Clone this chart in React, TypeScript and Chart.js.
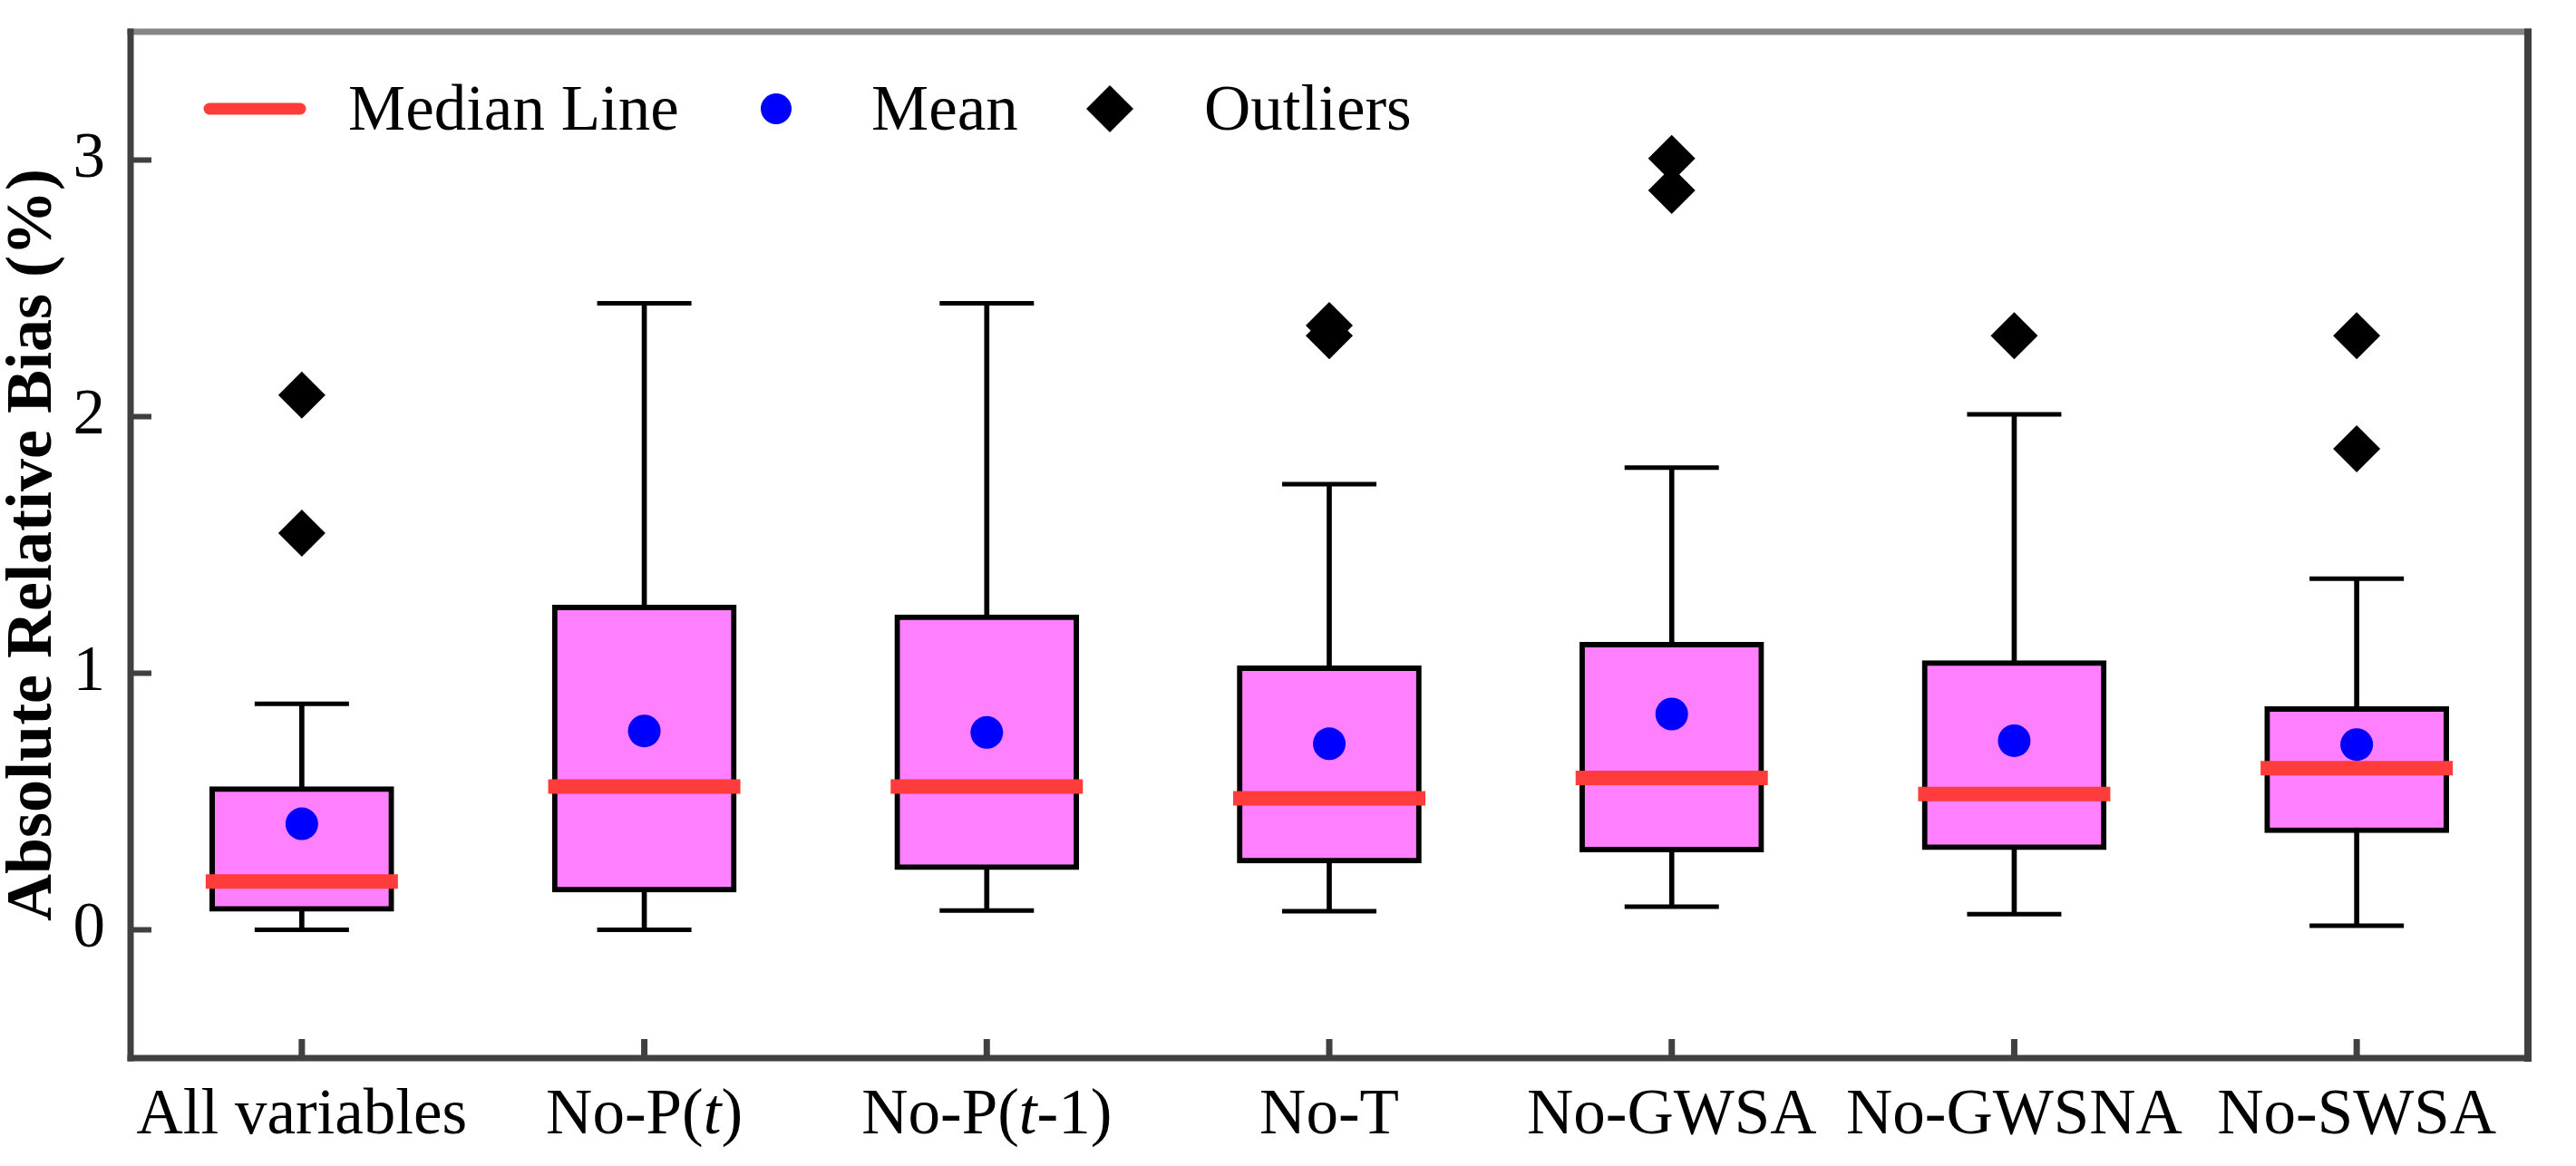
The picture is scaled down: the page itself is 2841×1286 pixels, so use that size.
import React, { useEffect, useRef } from 'react';
import { Chart, registerables } from 'chart.js';

Chart.register(...registerables);

// ---------- data ----------
const categories = ['All variables', 'No-P(t)', 'No-P(t-1)', 'No-T', 'No-GWSA', 'No-GWSNA', 'No-SWSA'];
// tick labels with _..._ marking italic parts
const tickLabels = ['All variables', 'No-P(_t_)', 'No-P(_t_-1)', 'No-T', 'No-GWSA', 'No-GWSNA', 'No-SWSA'];
const whiskerLow = [0.0, 0.0, 0.075, 0.072, 0.09, 0.061, 0.016];
const q1 = [0.072, 0.147, 0.234, 0.26, 0.303, 0.312, 0.378];
const median = [0.188, 0.558, 0.558, 0.512, 0.592, 0.529, 0.63];
const mean = [0.413, 0.775, 0.769, 0.725, 0.841, 0.737, 0.722];
const q3 = [0.558, 1.266, 1.228, 1.029, 1.121, 1.049, 0.87];
const whiskerHigh = [0.881, 2.442, 2.442, 1.737, 1.801, 2.009, 1.368];
const outliersAllVariables = [1.546, 2.084];
const outliersNoPt: number[] = [];
const outliersNoPt1: number[] = [];
const outliersNoT = [2.315, 2.355];
const outliersNoGWSA = [2.882, 3.006];
const outliersNoGWSNA = [2.315];
const outliersNoSWSA = [1.875, 2.315];
const outlierLists = [outliersAllVariables, outliersNoPt, outliersNoPt1, outliersNoT, outliersNoGWSA, outliersNoGWSNA, outliersNoSWSA];
const yTicks = [0, 1, 2, 3];
const yTitle = 'Absolute Relative Bias (%)';
const legendLabels = ['Median Line', 'Mean', 'Outliers'];

// ---------- style ----------
const FONT = '"Liberation Serif", "Times New Roman", serif';
const BOX_FILL = '#FF80FF';
const MEDIAN_RED = '#FF3C3C';
const MEAN_BLUE = '#0000FF';
const AXIS_DARK = '#404040';
const AXIS_GRAY = '#858585';

function parseLabel(s: string): Array<[string, boolean]> {
  const parts = s.split('_');
  return parts.map((p, i) => [p, i % 2 === 1] as [string, boolean]).filter(([p]) => p.length > 0);
}

const decorPlugin = {
  id: 'decor',
  afterDraw(chart: any) {
    const { ctx, chartArea } = chart;
    const { left, right, top, bottom } = chartArea;
    const xs = chart.scales.x;
    const ys = chart.scales.y;
    const line = (x1: number, y1: number, x2: number, y2: number) => {
      ctx.beginPath();
      ctx.moveTo(x1, y1);
      ctx.lineTo(x2, y2);
      ctx.stroke();
    };
    ctx.save();
    ctx.lineCap = 'butt';
    // frame
    ctx.strokeStyle = AXIS_GRAY;
    ctx.lineWidth = 7;
    line(left - 3.5, top, right + 4, top);
    ctx.strokeStyle = AXIS_DARK;
    ctx.lineWidth = 8;
    line(right, top - 3.5, right, bottom + 4);
    ctx.lineWidth = 7;
    line(left, top - 3.5, left, bottom + 3.5);
    line(left - 3.5, bottom, right + 4, bottom);
    // inward y ticks
    ctx.lineWidth = 6;
    yTicks.forEach((v) => {
      const py = ys.getPixelForValue(v);
      line(left, py, left + 23, py);
    });
    // inward x ticks
    ctx.lineWidth = 7;
    categories.forEach((_, i) => {
      const px = xs.getPixelForValue(i);
      line(px, bottom, px, bottom - 21);
    });

    // x tick labels (with italic parts)
    ctx.fillStyle = '#000';
    ctx.textBaseline = 'alphabetic';
    ctx.textAlign = 'left';
    const normalFont = `71px ${FONT}`;
    const italicFont = `italic 71px ${FONT}`;
    tickLabels.forEach((lab, i) => {
      const parts = parseLabel(lab);
      let total = 0;
      const widths = parts.map(([t, it]) => {
        ctx.font = it ? italicFont : normalFont;
        const w = ctx.measureText(t).width;
        total += w;
        return w;
      });
      let x = xs.getPixelForValue(i) - total / 2;
      const y = bottom + 83;
      parts.forEach(([t, it], k) => {
        ctx.font = it ? italicFont : normalFont;
        ctx.fillText(t, x, y);
        x += widths[k];
      });
    });

    // legend inside plot
    const ly = top + 85;
    const textY = top + 108;
    ctx.font = normalFont;
    // median line
    ctx.strokeStyle = MEDIAN_RED;
    ctx.lineWidth = 13;
    ctx.lineCap = 'round';
    line(left + 87, ly, left + 187, ly);
    ctx.fillStyle = '#000';
    ctx.fillText(legendLabels[0], left + 240, textY);
    // mean dot
    ctx.fillStyle = MEAN_BLUE;
    ctx.beginPath();
    ctx.arc(left + 712, ly, 17, 0, Math.PI * 2);
    ctx.fill();
    ctx.fillStyle = '#000';
    ctx.fillText(legendLabels[1], left + 817, textY);
    // outlier diamond
    const dx = left + 1080;
    const r = 26;
    ctx.beginPath();
    ctx.moveTo(dx, ly - r);
    ctx.lineTo(dx + r, ly);
    ctx.lineTo(dx, ly + r);
    ctx.lineTo(dx - r, ly);
    ctx.closePath();
    ctx.fill();
    ctx.fillText(legendLabels[2], left + 1184, textY);
    ctx.restore();
  },
};

export default function App() {
  const canvasRef = useRef<HTMLCanvasElement | null>(null);

  useEffect(() => {
    const canvas = canvasRef.current;
    if (!canvas) return;
    const outlierPoints = outlierLists.flatMap((vals, i) => vals.map((v) => ({ x: categories[i], y: v })));

    const chart = new Chart(canvas, {
      type: 'bar',
      data: {
        labels: categories,
        datasets: [
          {
            type: 'bar',
            label: 'Whisker',
            data: categories.map((_, i) => [whiskerLow[i], whiskerHigh[i]]),
            backgroundColor: '#000',
            borderWidth: 0,
            barThickness: 5,
            grouped: false,
            order: 10,
          } as any,
          {
            type: 'bar',
            label: 'Box',
            data: categories.map((_, i) => [q1[i], q3[i]]),
            backgroundColor: BOX_FILL,
            borderColor: '#000',
            borderWidth: 6,
            borderSkipped: false,
            barThickness: 203,
            grouped: false,
            order: 8,
          } as any,
          {
            type: 'line',
            label: 'Lower cap',
            data: whiskerLow,
            showLine: false,
            pointStyle: 'line',
            pointRadius: 52,
            pointHoverRadius: 52,
            pointBorderWidth: 5,
            pointBorderColor: '#000',
            order: 6,
          } as any,
          {
            type: 'line',
            label: 'Upper cap',
            data: whiskerHigh,
            showLine: false,
            pointStyle: 'line',
            pointRadius: 52,
            pointHoverRadius: 52,
            pointBorderWidth: 5,
            pointBorderColor: '#000',
            order: 6,
          } as any,
          {
            type: 'line',
            label: 'Median Line',
            data: median,
            showLine: false,
            pointStyle: 'line',
            pointRadius: 106,
            pointHoverRadius: 106,
            pointBorderWidth: 16,
            pointBorderColor: MEDIAN_RED,
            order: 3,
          } as any,
          {
            type: 'line',
            label: 'Mean',
            data: mean,
            showLine: false,
            pointStyle: 'circle',
            pointRadius: 18,
            pointHoverRadius: 18,
            pointBackgroundColor: MEAN_BLUE,
            pointBorderWidth: 0,
            order: 2,
          } as any,
          {
            type: 'line',
            label: 'Outliers',
            data: outlierPoints,
            showLine: false,
            pointStyle: 'rectRot',
            pointRadius: 26,
            pointHoverRadius: 26,
            pointBackgroundColor: '#000',
            pointBorderWidth: 0,
            order: 1,
          } as any,
        ],
      },
      options: {
        responsive: false,
        devicePixelRatio: 1,
        animation: false,
        events: [],
        layout: { autoPadding: false, padding: { top: 35, right: 53, left: 0, bottom: 0 } },
        plugins: {
          legend: { display: false },
          tooltip: { enabled: false },
        },
        scales: {
          x: {
            type: 'category',
            ticks: { display: false },
            grid: { display: false, drawTicks: false },
            border: { display: false },
            afterFit: (s: any) => {
              s.height = 119;
              s.paddingLeft = 0;
              s.paddingRight = 0;
            },
          },
          y: {
            type: 'linear',
            min: -0.5,
            max: 3.5,
            afterBuildTicks: (s: any) => {
              s.ticks = yTicks.map((v) => ({ value: v }));
            },
            ticks: {
              font: { family: FONT, size: 71 },
              color: '#000',
              padding: 28,
            },
            grid: { display: false, drawTicks: false },
            border: { display: false },
            title: {
              display: true,
              text: yTitle,
              color: '#000',
              font: { family: FONT, size: 72, weight: 'bold', lineHeight: 1.05 },
              padding: 0,
            },
            afterFit: (s: any) => {
              s.width = 144;
              s.paddingTop = 0;
              s.paddingBottom = 0;
            },
          },
        },
      } as any,
      plugins: [decorPlugin],
    });

    return () => {
      chart.destroy();
    };
  }, []);

  return (
    <div style={{ position: 'absolute', left: 0, top: 0, width: 2841, height: 1286, background: '#fff' }}>
      <canvas ref={canvasRef} width={2841} height={1286} style={{ display: 'block', width: 2841, height: 1286 }} />
    </div>
  );
}
